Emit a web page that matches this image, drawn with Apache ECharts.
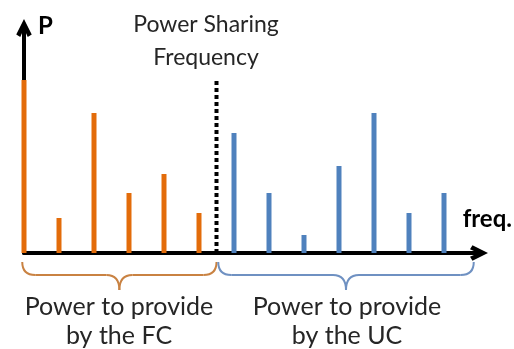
<!DOCTYPE html>
<html>
<head>
<meta charset="utf-8">
<script src="https://cdn.jsdelivr.net/npm/echarts@6/dist/echarts.min.js"></script>
<style>html,body{margin:0;padding:0;background:#fff}#c{width:514px;height:349px}</style>
</head>
<body>
<div id="c"></div>
<script>
// ---- data ----
var fcFreqs = [0, 1, 2, 3, 4, 5];
var fcPower = [173, 35, 140, 60, 79, 40];
var ucFreqs = [6, 7, 8, 9, 10, 11, 12];
var ucPower = [120, 60, 18, 87, 140, 40, 60];
var sharingFreq = 5.5;
var sharingHeight = 173;
var braceRanges = [[-0.05, 5.5], [5.55, 12.85]];
var braceNames = ['FC', 'UC'];
var titleLines = ['Power Sharing', 'Frequency'];
var fcLabel = ['Power to provide', 'by the FC'];
var ucLabel = ['Power to provide', 'by the UC'];

var ORANGE = '#E36C0A', BLUE = '#4F81BD';
var BRACE_COLORS = ['#C98242', '#6F91C2'];
var FONT = 'Lato';

function pairs(xs, ys) { return xs.map(function (x, i) { return [x, ys[i]]; }); }

var chart = echarts.init(document.getElementById('c'));
var arrowPath = 'path://M0,10 L5,0 L10,10 L7.4,11.6 L5,6.2 L2.6,11.6 Z';

chart.setOption({
  animation: false,
  grid: { left: 24, right: 35, top: 28, bottom: 96 },
  xAxis: {
    type: 'value', min: 0, max: 13,
    splitLine: { show: false }, axisTick: { show: false }, axisLabel: { show: false },
    axisLine: { show: true, onZero: false, lineStyle: { color: '#000', width: 4 },
      symbol: ['none', arrowPath], symbolSize: [21, 18] }
  },
  yAxis: {
    type: 'value', min: 0, max: 225,
    splitLine: { show: false }, axisTick: { show: false }, axisLabel: { show: false },
    axisLine: { show: true, onZero: false, lineStyle: { color: '#000', width: 4 },
      symbol: ['none', arrowPath], symbolSize: [22, 18] }
  },
  series: [
    { type: 'bar', data: pairs(fcFreqs, fcPower), barWidth: 5, itemStyle: { color: ORANGE }, z: 3 },
    { type: 'bar', data: pairs(ucFreqs, ucPower), barWidth: 5, barGap: '-100%', itemStyle: { color: BLUE }, z: 3 },
    { type: 'line', data: [[sharingFreq, 0], [sharingFreq, sharingHeight]], symbol: 'none',
      lineStyle: { color: '#000', width: 4, type: [4, 3], cap: 'butt' }, z: 4 },
    { type: 'custom', clip: false, z: 4,
      data: braceRanges.map(function (r, i) { return [r[0], r[1], i]; }),
      renderItem: function (params, api) {
        var a = api.coord([api.value(0), 0]);
        var b = api.coord([api.value(1), 0]);
        var x0 = a[0], x1 = b[0], base = a[1];
        var xm = (x0 + x1) / 2;
        var top = base + 9, mid = base + 22, tip = base + 37, r = 13;
        var col = BRACE_COLORS[api.value(2)];
        var st = { stroke: col, fill: null, lineWidth: 2 };
        return { type: 'group', children: [
          { type: 'bezierCurve', shape: { x1: x0, y1: top, cpx1: x0, cpy1: mid, x2: x0 + r, y2: mid }, style: st },
          { type: 'line', shape: { x1: x0 + r, y1: mid, x2: xm - r, y2: mid }, style: st },
          { type: 'bezierCurve', shape: { x1: xm - r, y1: mid, cpx1: xm, cpy1: mid, x2: xm, y2: tip }, style: st },
          { type: 'bezierCurve', shape: { x1: xm, y1: tip, cpx1: xm, cpy1: mid, x2: xm + r, y2: mid }, style: st },
          { type: 'line', shape: { x1: xm + r, y1: mid, x2: x1 - r, y2: mid }, style: st },
          { type: 'bezierCurve', shape: { x1: x1 - r, y1: mid, cpx1: x1, cpy1: mid, x2: x1, y2: top }, style: st }
        ]};
      }
    }
  ],
  graphic: [
    { type: 'text', left: 38, top: 14, style: { text: 'P', font: 'bold 24px ' + FONT, fill: '#000' } },
    { type: 'text', right: 2, top: 207, style: { text: 'freq.', font: 'bold 24px ' + FONT, fill: '#000' } },
    { type: 'text', x: 206, y: 8, style: { text: titleLines.join('\n'), font: '23px ' + FONT, fill: '#262626', align: 'center', lineHeight: 33 } },
    { type: 'text', x: 119, y: 292, style: { text: fcLabel.join('\n'), font: '25px ' + FONT, fill: '#262626', align: 'center', lineHeight: 29 } },
    { type: 'text', x: 347, y: 292, style: { text: ucLabel.join('\n'), font: '25px ' + FONT, fill: '#262626', align: 'center', lineHeight: 29 } }
  ]
});
</script>
</body>
</html>
